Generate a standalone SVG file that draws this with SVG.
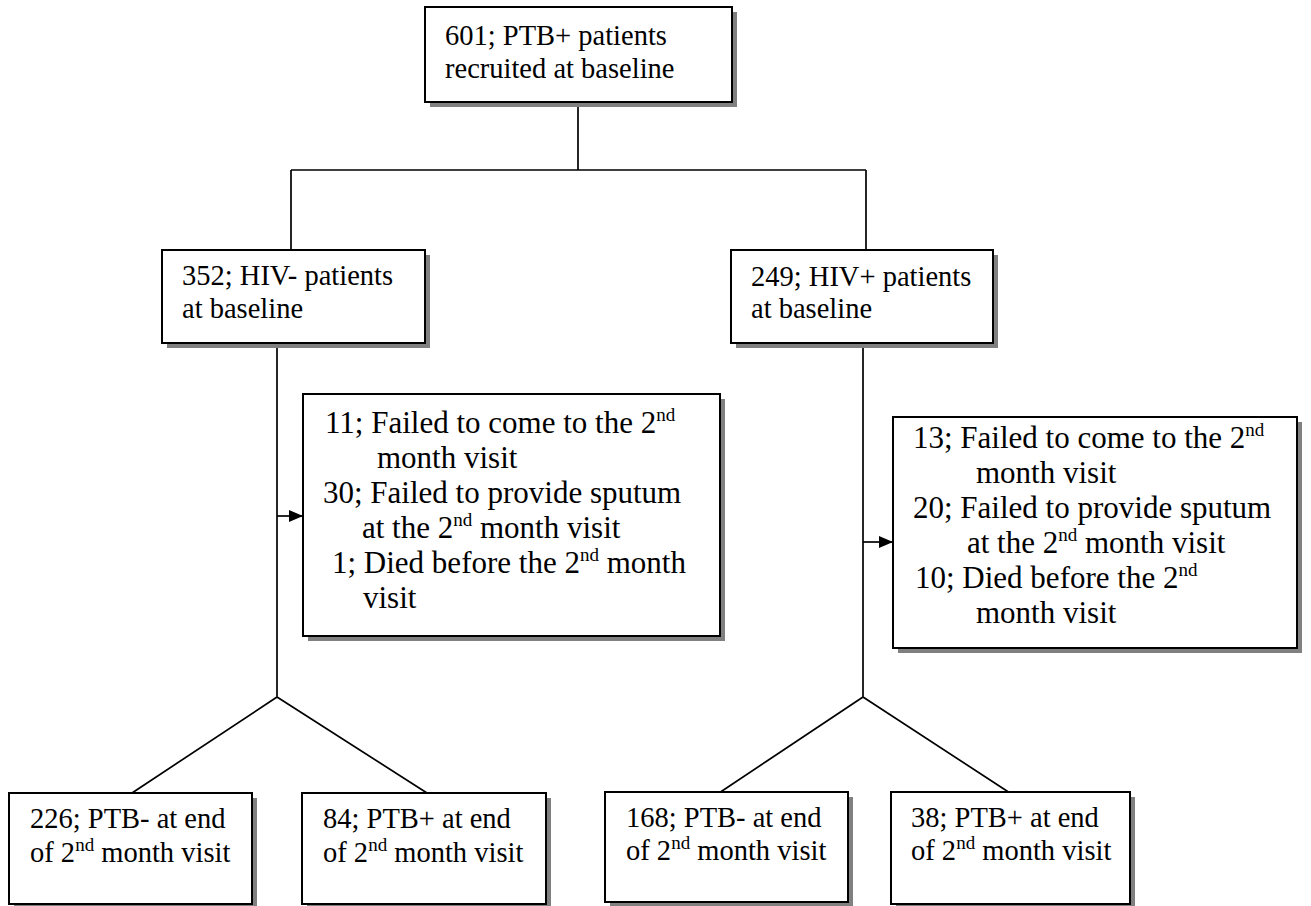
<svg xmlns="http://www.w3.org/2000/svg" width="1311" height="906" viewBox="0 0 1311 906">
<style>
.box{fill:#fff;stroke:#000;stroke-width:2}
.sh{fill:#808080}
.t{font-family:"Liberation Serif","Times New Roman",serif;font-size:28.5px;fill:#000}
.tf{font-family:"Liberation Serif","Times New Roman",serif;font-size:31px;fill:#000}
.sup{font-size:19px}
.ln{fill:none;stroke:#000;stroke-width:1.7}
</style>
<defs>
<marker id="ah" markerWidth="14" markerHeight="12" refX="14" refY="6" orient="auto" markerUnits="userSpaceOnUse">
<path d="M0,0 L14,6 L0,12 Z" fill="#000"/>
</marker>
</defs>
<rect width="1311" height="906" fill="#fff"/>
<g id="connectors">
<path class="ln" d="M578,102 V170 M291,170 H866 M291,170 V250 M866,170 V250"/>
<path class="ln" d="M277,343 V697 M277,697 L132,793 M277,697 L427,793"/>
<path class="ln" d="M863,343 V697 M863,697 L719,793 M863,697 L1010,793"/>
<path class="ln" d="M277,516 H303" marker-end="url(#ah)"/>
<path class="ln" d="M863,542 H893" marker-end="url(#ah)"/>
</g>
<g id="n601">
<rect class="sh" x="430" y="12" width="307" height="95"/>
<rect class="box" x="425" y="7" width="307" height="95"/>
<text class="t" x="445" y="45">601; PTB+ patients</text>
<text class="t" x="445" y="78">recruited at baseline</text>
</g>
<g id="n352">
<rect class="sh" x="167" y="255" width="263" height="93"/>
<rect class="box" x="162" y="250" width="263" height="93"/>
<text class="t" x="182" y="285">352; HIV- patients</text>
<text class="t" x="182" y="318">at baseline</text>
</g>
<g id="n249">
<rect class="sh" x="736" y="255" width="262" height="93"/>
<rect class="box" x="731" y="250" width="262" height="93"/>
<text class="t" x="751" y="286">249; HIV+ patients</text>
<text class="t" x="751" y="318">at baseline</text>
</g>
<g id="nlossHIVneg">
<rect class="sh" x="308" y="399" width="417" height="242"/>
<rect class="box" x="303" y="394" width="417" height="242"/>
<text class="tf" x="325" y="433">11; Failed to come to the 2<tspan class="sup" dy="-12">nd</tspan></text>
<text class="tf" x="377" y="468">month visit</text>
<text class="tf" x="323" y="503">30; Failed to provide sputum</text>
<text class="tf" x="362" y="538">at the 2<tspan class="sup" dy="-12">nd</tspan><tspan dy="12"> month visit</tspan></text>
<text class="tf" x="332" y="573">1; Died before the 2<tspan class="sup" dy="-12">nd</tspan><tspan dy="12"> month</tspan></text>
<text class="tf" x="363" y="608">visit</text>
</g>
<g id="nlossHIVpos">
<rect class="sh" x="898" y="422" width="404" height="231"/>
<rect class="box" x="893" y="417" width="404" height="231"/>
<text class="tf" x="913" y="448">13; Failed to come to the 2<tspan class="sup" dy="-12">nd</tspan></text>
<text class="tf" x="976" y="483">month visit</text>
<text class="tf" x="913" y="518">20; Failed to provide sputum</text>
<text class="tf" x="967" y="553">at the 2<tspan class="sup" dy="-12">nd</tspan><tspan dy="12"> month visit</tspan></text>
<text class="tf" x="915" y="588">10; Died before the 2<tspan class="sup" dy="-12">nd</tspan></text>
<text class="tf" x="976" y="623">month visit</text>
</g>
<g id="n226">
<rect class="sh" x="14" y="798" width="243" height="111"/>
<rect class="box" x="9" y="793" width="243" height="111"/>
<text class="t" x="30" y="828">226; PTB- at end</text>
<text class="t" x="30" y="862">of 2<tspan class="sup" dy="-11">nd</tspan><tspan dy="11"> month visit</tspan></text>
</g>
<g id="n84">
<rect class="sh" x="307" y="798" width="244" height="111"/>
<rect class="box" x="302" y="793" width="244" height="111"/>
<text class="t" x="323" y="828">84; PTB+ at end</text>
<text class="t" x="323" y="862">of 2<tspan class="sup" dy="-11">nd</tspan><tspan dy="11"> month visit</tspan></text>
</g>
<g id="n168">
<rect class="sh" x="610" y="797" width="243" height="110"/>
<rect class="box" x="605" y="792" width="243" height="110"/>
<text class="t" x="626" y="827">168; PTB- at end</text>
<text class="t" x="626" y="860">of 2<tspan class="sup" dy="-11">nd</tspan><tspan dy="11"> month visit</tspan></text>
</g>
<g id="n38">
<rect class="sh" x="896" y="797" width="239" height="112"/>
<rect class="box" x="891" y="792" width="239" height="112"/>
<text class="t" x="911" y="827">38; PTB+ at end</text>
<text class="t" x="911" y="860">of 2<tspan class="sup" dy="-11">nd</tspan><tspan dy="11"> month visit</tspan></text>
</g>
</svg>
